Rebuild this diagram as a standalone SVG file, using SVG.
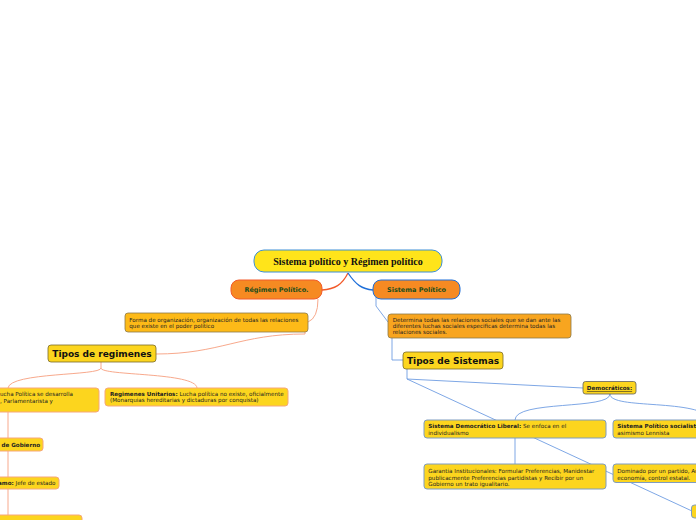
<svg xmlns="http://www.w3.org/2000/svg" width="696" height="520" viewBox="0 0 696 520">
<style>
.sm{font-family:"DejaVu Sans",Verdana,sans-serif;font-size:5.6px;fill:#222}
.b{font-weight:bold}
.hd{font-family:"DejaVu Sans",Verdana,sans-serif;font-weight:bold;font-size:9px;fill:#111}
.l1{font-family:"DejaVu Sans",Verdana,sans-serif;font-weight:bold;font-size:6.5px;fill:#1B4D1B;text-anchor:middle}
.yl{fill:#FCD51E;stroke:#F6A77A;stroke-width:1}
.yb{fill:#FCD51E;stroke:#7E9CC0;stroke-width:1}
.cl{fill:none;stroke:#F8A98C;stroke-width:1}
.cb{fill:none;stroke:#6F9DE2;stroke-width:0.9}
</style>
<rect width="696" height="520" fill="#fff"/>
<g id="connectors">
<path d="M348,273 C342,285 335,289 322,290" fill="none" stroke="#F25A2A" stroke-width="1.3"/>
<path d="M348,273 C356,285 362,289 373,290" fill="none" stroke="#1E6FD9" stroke-width="1.3"/>
<path class="cl" d="M318,299 Q318,318 308,322"/>
<path class="cl" d="M305,332 L305,334 C240,334 220,354 156,354"/>
<path class="cl" d="M101,362 L101,368 C101,376 10,372 8,388"/>
<path class="cl" d="M101,368 C101,376 196,372 197,388"/>
<path class="cl" d="M8,412 L8,520"/>
<path class="cb" d="M376,297 L376,306 L388,322"/>
<path class="cb" d="M392,338 L392,360 L403,360"/>
<path class="cb" d="M407,369 L407,379 L583,388"/>
<path class="cb" d="M407,379 L692,511"/>
<path class="cb" d="M610,394 C610,410 515,400 515,420"/>
<path class="cb" d="M610,394 C610,410 700,398 712,420"/>
<path class="cb" d="M515,438 L515,464"/>
</g>
<g id="root">
<rect x="254" y="250" width="188" height="22" rx="10" fill="#FFE41A" stroke="#3D8FD6" stroke-width="1"/>
<text x="348" y="264.5" font-family="'Liberation Serif','Times New Roman',serif" font-weight="bold" font-size="10" text-anchor="middle" fill="#111">Sistema político y Régimen político</text>
</g>
<g id="regimen">
<rect x="231" y="280" width="91" height="19" rx="8" fill="#F68A22" stroke="#F25A2A" stroke-width="1"/>
<text class="l1" x="276.5" y="292">Régimen Político.</text>
</g>
<g id="sistema">
<rect x="373" y="280" width="87" height="19" rx="8" fill="#F68A22" stroke="#1E6FD9" stroke-width="1"/>
<text class="l1" x="416.5" y="292">Sistema Político</text>
</g>
<g id="forma">
<rect x="125" y="313" width="183" height="19" rx="3" fill="#FDBA18" stroke="#8C7A4A" stroke-width="0.8"/>
<text class="sm" x="129.3" y="321.7">Forma de organización, organización de todas las relaciones</text>
<text class="sm" x="129.3" y="327.9">que existe en el poder político</text>
</g>
<g id="determina">
<rect x="388" y="314" width="183" height="24" rx="3" fill="#F8A51F" stroke="#8C7A4A" stroke-width="0.8"/>
<text class="sm" x="392.7" y="322">Determina todas las relaciones sociales que se dan ante las</text>
<text class="sm" x="392.7" y="328.2">diferentes luchas sociales especificas determina todas las</text>
<text class="sm" x="392.7" y="334.4">relaciones sociales.</text>
</g>
<g id="tipos-regimenes">
<rect x="48" y="345" width="108" height="17" rx="3" fill="#FCD51E" stroke="#7A6A2A" stroke-width="0.8"/>
<text class="hd" x="102" y="357.3" text-anchor="middle">Tipos de regimenes</text>
</g>
<g id="tipos-sistemas">
<rect x="403" y="352" width="100" height="17" rx="3" fill="#FCD51E" stroke="#7A6A2A" stroke-width="0.8"/>
<text class="hd" x="453" y="364.3" text-anchor="middle">Tipos de Sistemas</text>
</g>
<g id="pluralistas">
<rect class="yl" x="-20" y="388" width="119" height="24" rx="3"/>
<text class="sm" x="0" y="395.5">ucha Política se desarrolla</text>
<text class="sm" x="0" y="403">, Parlamentarista y</text>
</g>
<g id="unitarios">
<rect class="yl" x="105" y="388" width="183" height="18" rx="3"/>
<text class="sm" x="110" y="395.5"><tspan class="b">Regimenes Unitarios:</tspan> Lucha política no existe, oficialmente</text>
<text class="sm" x="110" y="402.2">(Monarquias hereditarias y dictaduras por conquista)</text>
</g>
<g id="gobierno">
<rect class="yl" x="-20" y="438" width="63" height="13" rx="3"/>
<text class="sm b" x="40" y="446.8" text-anchor="end">de Gobierno</text>
</g>
<g id="jefe">
<rect class="yl" x="-20" y="477" width="79" height="12" rx="3"/>
<text class="sm" x="55.5" y="484.8" text-anchor="end"><tspan class="b">amo:</tspan> Jefe de estado</text>
</g>
<g id="bottom-left">
<rect class="yl" x="-20" y="515" width="102" height="14" rx="3"/>
</g>
<g id="democraticos">
<rect x="583" y="381.5" width="53" height="12.5" rx="2.5" fill="#FCD51E" stroke="#5E5E5E" stroke-width="0.8"/>
<text class="sm b" x="609.5" y="390.3" text-anchor="middle" text-decoration="underline">Democráticos:</text>
</g>
<g id="liberal">
<rect class="yb" x="424" y="420" width="182" height="18" rx="3"/>
<text class="sm" x="428.3" y="428"><tspan class="b">Sistema Democrático Liberal:</tspan> Se enfoca en el</text>
<text class="sm" x="428.3" y="434.8">individualismo</text>
</g>
<g id="socialista">
<rect class="yb" x="613" y="420" width="100" height="18" rx="3"/>
<text class="sm b" x="617.3" y="428">Sistema Político socialista</text>
<text class="sm" x="617.3" y="434.8">asimismo Lennista</text>
</g>
<g id="garantia">
<rect class="yb" x="424" y="464" width="182" height="25" rx="3"/>
<text class="sm" x="428.3" y="473">Garantia Institucionales: Formular Preferencias, Manidestar</text>
<text class="sm" x="428.3" y="479.6">publicacmente Preferencias partidistas y Recibir por un</text>
<text class="sm" x="428.3" y="486.2">Gobierno un trato igualitario.</text>
</g>
<g id="dominado">
<rect class="yb" x="613" y="464" width="100" height="18.5" rx="3"/>
<text class="sm" x="617.3" y="473">Dominado por un partido, Au</text>
<text class="sm" x="617.3" y="479.6">economía, control estatal.</text>
</g>
<g id="bottom-right">
<rect class="yb" x="691.5" y="505" width="30" height="13" rx="3"/>
</g>
</svg>
